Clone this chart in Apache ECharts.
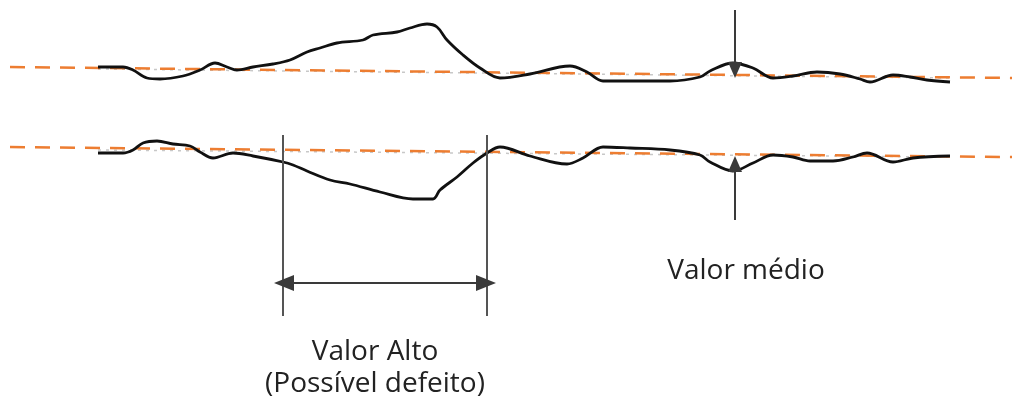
<!DOCTYPE html>
<html>
<head>
<meta charset="utf-8">
<script src="https://cdn.jsdelivr.net/npm/echarts@6/dist/echarts.min.js"></script>
<style>
  html, body { margin: 0; padding: 0; background: #fff; }
  #chart { width: 1012px; height: 405px; }
</style>
</head>
<body>
<div id="chart"></div>
<script>
// perfis (x, y em unidades do desenho, y cresce para baixo)
const topProfile = [
  [98, 67], [123, 67], [133, 70], [147, 78], [160, 79], [183, 76], [200, 70], [215, 63],
  [227, 67], [237, 70], [253, 67], [273, 64], [290, 60], [307, 52], [320, 48], [337, 43],
  [363, 40], [373, 35], [397, 32], [410, 28], [427, 24], [437, 27], [447, 40], [463, 55],
  [480, 68], [500, 78], [530, 74], [570, 66], [587, 72], [603, 81], [670, 81], [700, 77],
  [710, 71], [733, 63], [753, 68], [773, 78], [793, 76], [817, 72], [840, 74], [860, 79],
  [870, 82], [893, 75], [910, 77], [927, 80], [950, 82]
];
const bottomProfile = [
  [98, 153], [123, 153], [133, 150], [143, 143], [157, 141], [173, 144], [190, 146], [200, 152],
  [213, 158], [233, 153], [253, 156], [283, 162], [293, 165], [307, 171], [330, 180], [350, 184],
  [380, 192], [413, 199], [433, 199], [440, 190], [457, 177], [473, 163], [487, 153], [500, 147],
  [530, 156], [567, 164], [583, 158], [603, 147], [630, 148], [670, 150], [700, 155], [710, 162],
  [733, 171], [753, 163], [773, 155], [793, 157], [810, 161], [833, 161], [853, 157], [867, 153],
  [893, 162], [913, 158], [950, 156]
];
// linhas médias (tracejado laranja) e a média original, cinza clara
const meanTop = [[10, 67], [1012, 78]];
const meanBottom = [[10, 147], [1012, 157]];
const greyTop = [[98, 69], [950, 78]];
const greyBottom = [[98, 150], [950, 157]];
// cotas
const defectBounds = [283, 487];
const defectSpan = { y: 283, top: 135, bottom: 316 };
const meanArrowX = 735;
const meanArrowTop = { from: 10, to: 70 };
const meanArrowBottom = { from: 220, to: 164 };
const labels = ['Valor médio', 'Valor Alto', '(Possível defeito)'];

const chart = echarts.init(document.getElementById('chart'));

const profileStyle = { color: '#111', width: 2.8 };
const dashStyle = { color: '#ED7D31', width: 2.5, type: [15, 10] };
const greyStyle = { color: '#c8c8c8', width: 1.5, type: [3, 5] };
const guide = { color: '#3a3a3a', width: 2, type: 'solid' };
const font = '28px "Open Sans", sans-serif';

chart.setOption({
  animation: false,
  grid: { left: 0, right: 0, top: 0, bottom: 0 },
  xAxis: { type: 'value', min: 0, max: 1012, show: false },
  yAxis: { type: 'value', min: 0, max: 405, inverse: true, show: false },
  series: [
    { type: 'line', data: greyTop, showSymbol: false, silent: true, lineStyle: greyStyle, z: 2 },
    { type: 'line', data: greyBottom, showSymbol: false, silent: true, lineStyle: greyStyle, z: 2 },
    { type: 'line', data: meanTop, showSymbol: false, silent: true, lineStyle: dashStyle, z: 3 },
    { type: 'line', data: meanBottom, showSymbol: false, silent: true, lineStyle: dashStyle, z: 3 },
    {
      type: 'line', data: topProfile, smooth: 0.35, showSymbol: false,
      lineStyle: profileStyle, z: 4,
      markLine: {
        silent: true, symbol: ['none', 'triangle'], symbolSize: [14, 16],
        lineStyle: guide, label: { show: false },
        itemStyle: { color: '#111' },
        data: [[{ coord: [meanArrowX, meanArrowTop.from] }, { coord: [meanArrowX, meanArrowTop.to] }]]
      }
    },
    {
      type: 'line', data: bottomProfile, smooth: 0.35, showSymbol: false,
      lineStyle: profileStyle, z: 4,
      markLine: {
        silent: true, symbol: ['none', 'triangle'], symbolSize: [14, 16],
        lineStyle: guide, label: { show: false },
        data: [
          [{ coord: [meanArrowX, meanArrowBottom.from] }, { coord: [meanArrowX, meanArrowBottom.to] }],
          [{ coord: [defectBounds[0], defectSpan.top], symbol: 'none', lineStyle: { color: '#555' } },
           { coord: [defectBounds[0], defectSpan.bottom], symbol: 'none' }],
          [{ coord: [defectBounds[1], defectSpan.top], symbol: 'none', lineStyle: { color: '#555' } },
           { coord: [defectBounds[1], defectSpan.bottom], symbol: 'none' }],
          [{ coord: [defectBounds[0] + 1, defectSpan.y], symbol: 'triangle', symbolSize: [16, 20] },
           { coord: [defectBounds[1] - 1, defectSpan.y], symbol: 'triangle', symbolSize: [16, 20] }]
        ]
      }
    }
  ],
  graphic: [
    { type: 'text', x: 746, y: 271, style: { text: labels[0], font: font, fill: '#222', align: 'center', verticalAlign: 'middle' } },
    { type: 'text', x: 375, y: 352, style: { text: labels[1], font: font, fill: '#222', align: 'center', verticalAlign: 'middle' } },
    { type: 'text', x: 375, y: 384, style: { text: labels[2], font: font, fill: '#222', align: 'center', verticalAlign: 'middle' } }
  ]
});
</script>
</body>
</html>
